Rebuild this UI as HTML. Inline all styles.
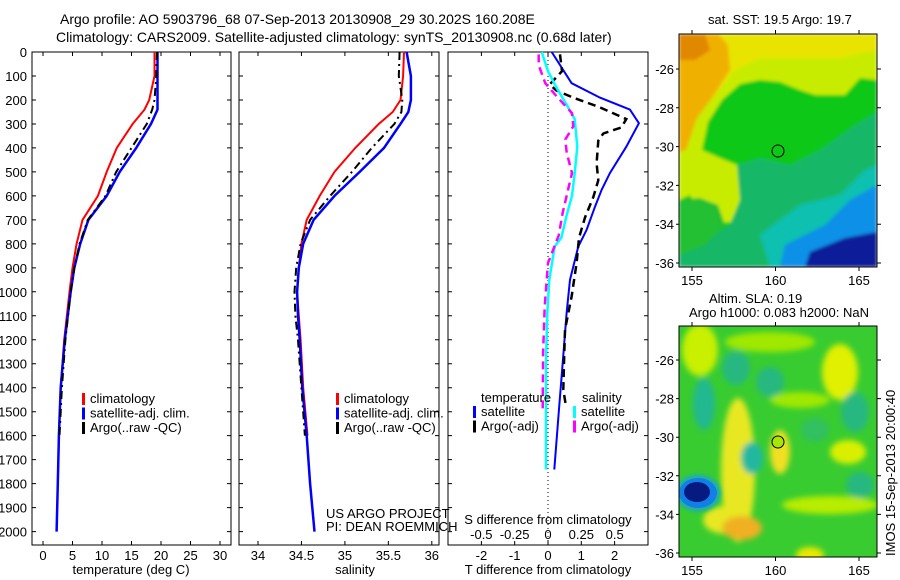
<!DOCTYPE html>
<html><head><meta charset="utf-8">
<style>
body{margin:0;background:#fff;}
svg{display:block;font-family:"Liberation Sans",sans-serif;}
text{fill:#000;font-size:13px;}
</style></head>
<body>
<svg id="fig" width="900" height="580" viewBox="0 0 900 580" xmlns="http://www.w3.org/2000/svg">
<defs>
<filter id="bl2" x="-50%" y="-50%" width="200%" height="200%"><feGaussianBlur stdDeviation="3"/></filter>
<filter id="bl1" x="-50%" y="-50%" width="200%" height="200%"><feGaussianBlur stdDeviation="1.5"/></filter>
<clipPath id="c1"><rect x="679" y="34" width="198" height="233"/></clipPath>
<clipPath id="c2"><rect x="679" y="326" width="198" height="231"/></clipPath>
</defs>
<text x="60" y="24" style="font-size:14px">Argo profile: AO 5903796_68 07-Sep-2013 20130908_29 30.202S 160.208E</text>
<text x="56" y="42" style="font-size:14px">Climatology: CARS2009. Satellite-adjusted climatology: synTS_20130908.nc (0.68d later)</text>

<!-- top map -->
<g clip-path="url(#c1)">
<g filter="url(#bl1)">
<rect x="679" y="34" width="198" height="233" fill="#10c818"/>
<path d="M679 34 L877 34 L877 80 L860 78 L845 95 L815 95 L800 90 L780 82 L760 80 L740 84 L722 100 L708 122 L702 150 L720 158 L737 165 L740 200 L732 222 L705 224 L690 195 L679 200Z" fill="#c8ec00"/>
<path d="M679 34 L877 34 L877 50 L840 58 L760 58 L735 70 L715 95 L700 110 L679 115Z" fill="#e8e400"/>
<path d="M679 34 L718 34 L728 45 L730 70 L712 98 L697 118 L686 150 L679 152Z" fill="#f0b000"/>
<path d="M679 34 L705 34 L710 50 L695 60 L679 60Z" fill="#e08800"/>
<path d="M737 165 L760 158 L790 165 L820 150 L855 125 L877 112 L877 267 L679 267 L679 255 L700 245 L730 224 L740 200Z" fill="#18b868"/>
<path d="M760 235 L800 205 L840 195 L865 170 L877 165 L877 267 L770 267Z" fill="#10c0b0"/>
<path d="M785 245 L825 225 L850 200 L877 185 L877 267 L780 267Z" fill="#1090e8"/>
<path d="M810 252 L845 238 L877 232 L877 267 L805 267Z" fill="#0a1a98"/>
<path d="M679 200 L700 198 L718 205 L725 225 L705 245 L679 255Z" fill="#20c030"/>
</g>
</g>
<rect x="679" y="34" width="198" height="233" fill="none" stroke="#000"/>
<circle cx="778" cy="151" r="6" fill="none" stroke="#000"/>
<text x="708" y="24">sat. SST: 19.5 Argo: 19.7</text>

<!-- bottom map -->
<g clip-path="url(#c2)">
<rect x="679" y="326" width="198" height="231" fill="#38cc30"/>
<g filter="url(#bl2)">
<ellipse cx="700" cy="350" rx="18" ry="26" fill="#c8f000"/>
<ellipse cx="840" cy="372" rx="18" ry="28" fill="#e0f000"/>
<ellipse cx="770" cy="342" rx="45" ry="10" fill="#a0e800"/>
<ellipse cx="800" cy="400" rx="30" ry="8" fill="#a0e800"/>
<ellipse cx="738" cy="470" rx="17" ry="72" fill="#e8e820"/>
<ellipse cx="725" cy="520" rx="22" ry="14" fill="#e8e820"/>
<ellipse cx="742" cy="528" rx="20" ry="12" fill="#f0b020"/>
<ellipse cx="780" cy="452" rx="10" ry="22" fill="#f0e020"/>
<ellipse cx="848" cy="452" rx="18" ry="12" fill="#d8f000"/>
<ellipse cx="830" cy="505" rx="48" ry="9" fill="#b8ec00"/>
<ellipse cx="810" cy="555" rx="14" ry="8" fill="#e8e800"/>
<ellipse cx="704" cy="404" rx="11" ry="26" fill="#20b890"/>
<ellipse cx="736" cy="368" rx="14" ry="17" fill="#28b880"/>
<ellipse cx="770" cy="382" rx="14" ry="15" fill="#28b880"/>
<ellipse cx="752" cy="458" rx="11" ry="16" fill="#20b8a0"/>
<ellipse cx="855" cy="412" rx="14" ry="20" fill="#28b880"/>
<ellipse cx="860" cy="485" rx="14" ry="13" fill="#28b880"/>
<ellipse cx="815" cy="430" rx="14" ry="12" fill="#30c060"/>
</g>
<ellipse cx="698" cy="493" rx="23" ry="19" fill="#20b0a0" filter="url(#bl1)"/>
<ellipse cx="698" cy="493" rx="19" ry="15" fill="#1080e8"/>
<ellipse cx="697" cy="492" rx="13" ry="10" fill="#061a80"/>
</g>
<rect x="679" y="326" width="198" height="231" fill="none" stroke="#000"/>
<circle cx="778" cy="442" r="6" fill="#a8e800" stroke="#000"/>
<text x="709" y="303">Altim. SLA: 0.19</text>
<text x="689" y="317">Argo h1000: 0.083 h2000: NaN</text>
<text transform="translate(895,556) rotate(-90)" style="font-size:13px">IMOS 15-Sep-2013 20:00:40</text>
<g id="mapaxes"></g>

<g id="plots"></g>
</svg>
<script>
// ---- data ----
const depthTicks=[0,100,200,300,400,500,600,700,800,900,1000,1100,1200,1300,1400,1500,1600,1700,1800,1900,2000];
const tempTicks=[0,5,10,15,20,25,30];
const salTicks=[34,34.5,35,35.5,36];
const tdiffTicks=[-2,-1,0,1,2];
const sdiffTicks=[-0.5,-0.25,0,0.25,0.5];
const sdiffTickLabels=["-0.5","-0.25","0","0.25","0.5"];
const lonTicks=[155,160,165];
const latTicks=[-26,-28,-30,-32,-34,-36];

const tDepth=[0,100,200,240,300,400,500,600,700,800,900,1000,1200,1400,1600,1800,2000];
const tempClim=[18.9,18.9,18.0,17.2,15.2,12.5,10.8,9.3,6.7,5.7,5.0,4.5,3.6,3.0,2.7,2.5,null];
const tempSat=[19.4,19.4,19.4,19.4,18.3,15.8,13.0,10.8,7.7,6.3,5.3,4.7,3.7,3.0,2.7,2.5,2.3];
const tempArgo=[19.3,19.2,18.9,18.5,17.6,15.0,12.4,10.6,7.6,6.2,5.3,4.7,3.8,3.2,2.8,null,null];

const sDepth=[0,100,200,250,300,400,500,600,700,800,900,1000,1100,1200,1400,1600,1800,2000];
const salClim=[35.68,35.67,35.64,35.55,35.39,35.12,34.88,34.71,34.56,34.50,34.47,34.45,34.47,34.49,34.52,34.57,null,null];
const salSat=[35.71,35.76,35.76,35.73,35.64,35.45,35.17,34.88,34.64,34.52,34.47,34.45,34.46,34.48,34.51,34.56,34.60,34.65];
const salArgo=[35.63,35.62,35.66,35.65,35.57,35.31,35.08,34.83,34.60,34.49,34.44,34.42,34.43,34.46,34.50,34.54,null,null];

const tdSatDepth=[0,130,190,240,297,395,505,575,645,742,811,950,1089,1297,1505,1741];
const tdiffSat=[0.11,0.71,1.56,2.46,2.73,2.35,1.86,1.61,1.41,1.16,0.91,0.66,0.56,0.44,0.32,0.19];
const tdArgoDepth=[10,80,135,160,190,230,280,315,340,370,465,535,605,690,775,880,1020,1158,1297,1408,1478];
const tdiffArgo=[0.36,0.42,0.05,0.25,0.75,1.55,2.35,2.2,1.66,1.51,1.46,1.51,1.36,1.11,0.93,0.86,0.71,0.51,0.48,0.46,0.54];
const sdSatDepth=[0,80,150,220,280,395,505,600,680,775,811,950,1089,1297,1741];
const sdiffSat=[-0.047,0.0,0.065,0.14,0.20,0.22,0.20,0.18,0.14,0.10,0.05,0.01,-0.005,-0.015,-0.015];
const sdArgoDepth=[10,55,130,185,255,310,365,420,505,575,670,765,880,1061,1255,1491];
const sdiffArgo=[-0.07,-0.07,-0.02,0.065,0.18,0.19,0.13,0.14,0.18,0.15,0.11,0.08,0.0,-0.025,-0.037,-0.04];

// ---- layout ----
const NS="http://www.w3.org/2000/svg";
const plots=document.getElementById('plots');
const Y0=52,Y1=545;
const yD=d=>52+d*0.2398;
function mk(tag,attrs,parent,txt){const e=document.createElementNS(NS,tag);for(const k in attrs)e.setAttribute(k,attrs[k]);if(txt!==undefined)e.textContent=txt;(parent||plots).appendChild(e);return e;}
const xT=v=>43+v*5.9;
const xS=v=>258+(v-34)*86.9;
const xTd=v=>548+v*33.3;
const xSd=v=>548+v*133.3;

function frame(x0,x1,name){
  const r=mk('rect',{x:x0,y:Y0,width:x1-x0,height:Y1-Y0,fill:'none',stroke:'#000'});
  
  
  depthTicks.forEach(d=>{
    const t=mk('path',{d:`M${x0} ${yD(d)}h4M${x1} ${yD(d)}h-4`,stroke:'#000'});
    
    
  });
}
function xaxis(ticks,labels,fx,x0,x1,y,title,tx,name){
  ticks.forEach((v,i)=>{
    const t=mk('path',{d:`M${fx(v)} ${Y1}v-4M${fx(v)} ${Y0}v4`,stroke:'#000'});
    
    
    const l=mk('text',{x:fx(v),y:y,'text-anchor':'middle'},null,labels[i]);
    
    
  });
  const tt=mk('text',{x:tx,y:574,'text-anchor':'middle'},null,title);
  
  
}
function line(ds,vs,fx,color,w,dash,name){
  let d='',pen=false;
  ds.forEach((dd,i)=>{const v=vs[i];if(v===null){pen=false;return;}d+=(pen?'L':'M')+fx(v).toFixed(1)+' '+yD(dd).toFixed(1);pen=true;});
  const p=mk('path',{d:d,fill:'none',stroke:color,'stroke-width':w});
  if(dash)p.setAttribute('stroke-dasharray',dash);
  
  
}
function legend(x,y,items,name){
  items.forEach((it,i)=>{
    const yy=y+i*14.5;
    const s=mk('rect',{x:x,y:yy-10,width:3,height:12,fill:it[0]});
    
    
    const t=mk('text',{x:x+8,y:yy},null,it[1]);
    
    
  });
}

// panel 1
frame(32,231,'temperature-panel-frame');
depthTicks.forEach(d=>{const t=mk('text',{x:27,y:yD(d)+5,'text-anchor':'end'},null,String(d));

});
xaxis(tempTicks,tempTicks.map(String),xT,32,231,560,'temperature (deg C)',131,'temperature-axis');
line(tDepth,tempClim,xT,'#f00',2,null,'temperature-climatology-line');
line(tDepth,tempSat,xT,'#00f',2.5,null,'temperature-satellite-line');
line(tDepth,tempArgo,xT,'#000',2,'8,4,2,4','temperature-argo-line');
legend(82,403,[['#f00','climatology'],['#00f','satellite-adj. clim.'],['#000','Argo(..raw -QC)']],'temperature-legend');

// panel 2
frame(239,439,'salinity-panel-frame');
xaxis(salTicks,salTicks.map(String),xS,239,439,560,'salinity',355,'salinity-axis');
line(sDepth,salClim,xS,'#f00',2,null,'salinity-climatology-line');
line(sDepth,salSat,xS,'#00f',2.5,null,'salinity-satellite-line');
line(sDepth,salArgo,xS,'#000',2,'8,4,2,4','salinity-argo-line');
legend(336,403,[['#f00','climatology'],['#00f','satellite-adj. clim.'],['#000','Argo(..raw -QC)']],'salinity-legend');
{const a=mk('text',{x:326,y:518},null,'US ARGO PROJECT');
const b=mk('text',{x:326,y:531},null,'PI: DEAN ROEMMICH');}

// panel 3
frame(448,648,'difference-panel-frame');
{const z=mk('path',{d:`M548 ${Y0}V${Y1}`,stroke:'#000','stroke-dasharray':'1,3'});}
xaxis(tdiffTicks,tdiffTicks.map(String),xTd,448,648,560,'T difference from climatology',548,'tdiff-axis');
sdiffTicks.forEach((v,i)=>{const l=mk('text',{x:xSd(v),y:539,'text-anchor':'middle'},null,sdiffTickLabels[i]);

});
{const s=mk('text',{x:548,y:524,'text-anchor':'middle'},null,'S difference from climatology');}
line(tdSatDepth,tdiffSat,xTd,'#00f',2,null,'tdiff-satellite-line');
line(tdArgoDepth,tdiffArgo,xTd,'#000',2.5,'8,5','tdiff-argo-line');
line(sdSatDepth,sdiffSat,xSd,'#0ff',2.5,null,'sdiff-satellite-line');
line(sdArgoDepth,sdiffArgo,xSd,'#f0f',2.5,'8,5','sdiff-argo-line');
{const a=mk('text',{x:481,y:402},null,'temperature');
const b=mk('text',{x:582,y:402},null,'salinity');}
legend(473,416,[['#00f','satellite'],['#000','Argo(-adj)']],'tdiff-legend');
legend(573,416,[['#0ff','satellite'],['#f0f','Argo(-adj)']],'sdiff-legend');

// map axes
const mapaxes=document.getElementById('mapaxes');
const xLon=v=>692+(v-155)*16.7;
function mapAxes(top,bottom,latY,name){
  lonTicks.forEach(v=>{
    const t=mk('path',{d:`M${xLon(v)} ${bottom}v4M${xLon(v)} ${top}v-4`,stroke:'#000'},mapaxes);
    
    
    const l=mk('text',{x:xLon(v),y:bottom+18,'text-anchor':'middle'},mapaxes,String(v));
    
    
  });
  latTicks.forEach(v=>{
    const y=latY(v);
    const t=mk('path',{d:`M679 ${y}h-3M877 ${y}h4`,stroke:'#000'},mapaxes);
    
    
    const l=mk('text',{x:674,y:y+5,'text-anchor':'end'},mapaxes,String(v));
    
    
  });
}
mapAxes(34,267,v=>69+(-26-v)*19.4,'sst-map');
mapAxes(326,557,v=>360+(-26-v)*19.3,'sla-map');
</script>
</body></html>
